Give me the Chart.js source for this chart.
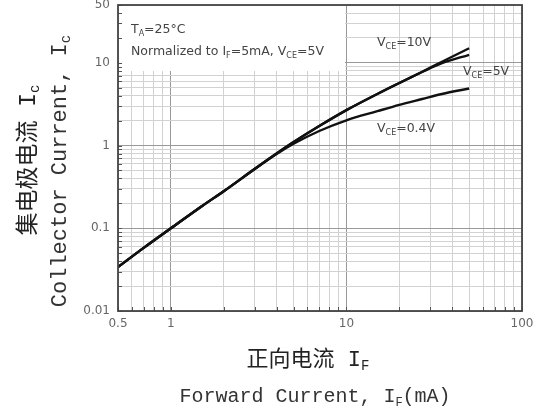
<!DOCTYPE html>
<html>
<head>
<meta charset="utf-8">
<script src="https://cdn.jsdelivr.net/npm/chart.js@4.4.1/dist/chart.umd.min.js"></script>
<style>
  html, body { margin: 0; padding: 0; background: #fff; }
  canvas { display: block; }
</style>
</head>
<body>
<canvas id="chart" width="542" height="409"></canvas>
<script>
// forward current IF (mA)
const currentIF = [0.5, 0.7, 1, 1.5, 2, 3, 4, 5, 7, 10, 15, 20, 27, 35, 50];
// normalized collector current
const ic10V = [0.034, 0.058, 0.1, 0.185, 0.28, 0.52, 0.8, 1.1, 1.72, 2.68, 4.2, 5.7, 7.8, 10.3, 15.0];
const ic5V  = [0.034, 0.058, 0.1, 0.185, 0.28, 0.52, 0.8, 1.1, 1.72, 2.68, 4.2, 5.7, 7.75, 9.9, 12.5];
const ic04V = [0.034, 0.058, 0.1, 0.185, 0.28, 0.52, 0.79, 1.05, 1.5, 2.02, 2.6, 3.1, 3.65, 4.2, 4.9];

const xLabels = [0.5, 1, 10, 100];
const yLabels = [0.01, 0.1, 1, 10, 50];

// grid positions: 1..9 in every decade, clipped to the axis range
function logTicks(min, max) {
  const out = [];
  for (let e = -3; e <= 3; e++) {
    for (let m = 1; m <= 9; m++) {
      const v = Number((m * Math.pow(10, e)).toPrecision(3));
      if (v >= min - 1e-9 && v <= max + 1e-9) out.push(v);
    }
  }
  return out;
}
const isDecade = v => Math.abs(Math.log10(v) - Math.round(Math.log10(v))) < 1e-6;
const hasLabel = (list, v) => list.some(l => Math.abs(l - v) < 1e-9);

// text with subscripts: parts = [[text, isSub], ...]
function richWidth(ctx, parts, size, family) {
  let w = 0;
  parts.forEach(([t, sub]) => {
    ctx.font = (sub ? Math.round(size * 0.62) : size) + 'px ' + family;
    w += ctx.measureText(t).width;
  });
  return w;
}
function drawRich(ctx, parts, x, y, size, family, color, align) {
  const w = richWidth(ctx, parts, size, family);
  let cx = align === 'center' ? x - w / 2 : x;
  ctx.fillStyle = color;
  ctx.textBaseline = 'middle';
  ctx.textAlign = 'left';
  parts.forEach(([t, sub]) => {
    ctx.font = (sub ? Math.round(size * 0.62) : size) + 'px ' + family;
    ctx.fillText(t, cx, sub ? y + size * 0.28 : y);
    cx += ctx.measureText(t).width;
  });
}

const SANS = '"DejaVu Sans", sans-serif';
const MONO = '"Liberation Mono", "Noto Sans CJK SC", monospace';

const decorations = {
  id: 'decorations',
  beforeDatasetsDraw(chart) {
    const { ctx, chartArea: a } = chart;
    ctx.save();
    ctx.fillStyle = '#fff';
    ctx.fillRect(a.left + 1, a.top + 1, 226, 65);
    ctx.restore();
  },
  afterDraw(chart) {
    const { ctx, chartArea: a, scales } = chart;
    ctx.save();
    // small inward tick marks on the left and bottom axes
    ctx.strokeStyle = '#555';
    ctx.lineWidth = 1;
    ctx.beginPath();
    scales.x.ticks.forEach(t => {
      const px = Math.round(scales.x.getPixelForValue(t.value)) + 0.5;
      ctx.moveTo(px, a.bottom);
      ctx.lineTo(px, a.bottom - 4);
    });
    scales.y.ticks.forEach(t => {
      const py = Math.round(scales.y.getPixelForValue(t.value)) + 0.5;
      ctx.moveTo(a.left, py);
      ctx.lineTo(a.left + 4, py);
    });
    ctx.stroke();

    ctx.strokeStyle = '#444';
    ctx.lineWidth = 1.8;
    ctx.strokeRect(a.left, a.top, a.right - a.left, a.bottom - a.top);

    const txt = '#444';
    drawRich(ctx, [['T', false], ['A', true], ['=25°C', false]], 131, 30, 12.5, SANS, txt, 'left');
    drawRich(ctx, [['Normalized to I', false], ['F', true], ['=5mA, V', false], ['CE', true], ['=5V', false]], 131, 52, 12.5, SANS, txt, 'left');
    drawRich(ctx, [['V', false], ['CE', true], ['=10V', false]], 377, 43, 12.5, SANS, txt, 'left');
    drawRich(ctx, [['V', false], ['CE', true], ['=5V', false]], 463, 72, 12.5, SANS, txt, 'left');
    drawRich(ctx, [['V', false], ['CE', true], ['=0.4V', false]], 377, 129, 12.5, SANS, txt, 'left');

    // axis titles
    drawRich(ctx, [['正向电流 I', false], ['F', true]], 308, 360, 22, MONO, '#222', 'center');
    drawRich(ctx, [['Forward Current, I', false], ['F', true], ['(mA)', false]], 315, 397, 20, MONO, '#333', 'center');

    ctx.translate(29, 160);
    ctx.rotate(-Math.PI / 2);
    drawRich(ctx, [['集电极电流 I', false], ['c', true]], 0, 0, 23, MONO, '#222', 'center');
    ctx.rotate(Math.PI / 2);
    ctx.translate(31, 11);
    ctx.rotate(-Math.PI / 2);
    drawRich(ctx, [['Collector Current, I', false], ['c', true]], 0, 0, 22, MONO, '#333', 'center');
    ctx.restore();
  }
};

const toPoints = ys => currentIF.map((x, i) => ({ x: x, y: ys[i] }));
const lineStyle = {
  borderColor: '#111',
  borderWidth: 2.4,
  pointRadius: 0,
  fill: false,
  cubicInterpolationMode: 'monotone'
};

const ctx = document.getElementById('chart').getContext('2d');
new Chart(ctx, {
  type: 'line',
  data: {
    datasets: [
      Object.assign({ label: 'VCE=10V', data: toPoints(ic10V) }, lineStyle),
      Object.assign({ label: 'VCE=5V', data: toPoints(ic5V) }, lineStyle),
      Object.assign({ label: 'VCE=0.4V', data: toPoints(ic04V) }, lineStyle)
    ]
  },
  options: {
    responsive: false,
    animation: false,
    layout: { padding: { left: 0, right: 20, top: 5, bottom: 0 } },
    plugins: { legend: { display: false }, tooltip: { enabled: false } },
    scales: {
      x: {
        type: 'logarithmic',
        min: 0.5,
        max: 100,
        afterBuildTicks: s => { s.ticks = logTicks(0.5, 100).map(v => ({ value: v })); },
        afterFit: s => { s.height = 98; s.paddingLeft = 0; s.paddingRight = 0; },
        ticks: {
          autoSkip: false,
          maxRotation: 0,
          padding: 6,
          color: '#666',
          font: { family: SANS, size: 12 },
          callback: v => hasLabel(xLabels, v) ? String(v) : ''
        },
        grid: {
          drawTicks: false,
          color: c => isDecade(c.tick.value) ? '#999' : '#d2d2d2',
          lineWidth: 1
        },
        border: { display: false }
      },
      y: {
        type: 'logarithmic',
        min: 0.01,
        max: 50,
        afterBuildTicks: s => { s.ticks = logTicks(0.01, 50).map(v => ({ value: v })); },
        afterFit: s => { s.width = 118; s.paddingTop = 0; s.paddingBottom = 0; },
        ticks: {
          autoSkip: false,
          padding: 8,
          color: '#666',
          font: { family: SANS, size: 12 },
          callback: v => hasLabel(yLabels, v) ? String(v) : ''
        },
        grid: {
          drawTicks: false,
          color: c => isDecade(c.tick.value) ? '#999' : '#d2d2d2',
          lineWidth: 1
        },
        border: { display: false }
      }
    }
  },
  plugins: [decorations]
});
</script>
</body>
</html>
